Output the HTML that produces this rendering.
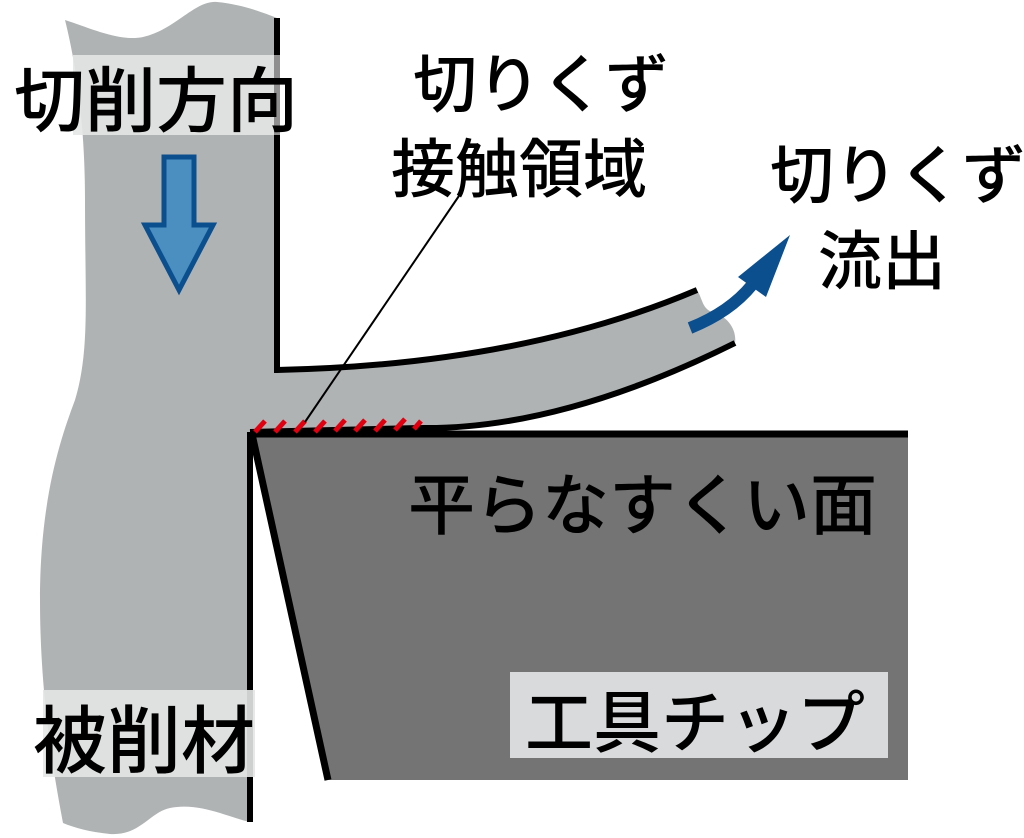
<!DOCTYPE html>
<html><head><meta charset="utf-8"><style>
html,body{margin:0;padding:0;background:#fff;}
svg{display:block}
text{font-family:"Liberation Sans","Noto Sans CJK JP",sans-serif;fill:#000;font-weight:500}
</style></head><body>
<svg width="1024" height="838" viewBox="0 0 1024 838" xmlns="http://www.w3.org/2000/svg">
<path d="M65,20 C90,28 120,42 143,37 C175,30 195,0 217,2 C240,4 262,12 277,18 L277,370 Q520,365 697,290 C703,300 702,308 712,312 C728,316 737,330 735,343 Q560,430 420,428 L250,432 L250,822 C230,818 200,802 170,808 C150,812 140,836 110,834 C90,832 75,828 63,823 C55,780 40,700 40,600 C40,500 60,440 75,400 C90,350 85,300 85,200 C85,120 75,60 65,20 Z" fill="#b0b3b4"/>
<polygon points="252,434 908,434 908,780 328,780" fill="#747474"/>
<path d="M252,434 L908,434" stroke="#000" stroke-width="7" fill="none"/>
<path d="M252,434 L328,780" stroke="#000" stroke-width="7" fill="none"/>
<path d="M277,18 L277,370 Q520,365 697,290" stroke="#000" stroke-width="6" fill="none"/>
<path d="M250,432 L250,822" stroke="#000" stroke-width="6" fill="none"/>
<path d="M250,432 L420,428 Q560,430 735,343" stroke="#000" stroke-width="6" fill="none"/>
<g stroke="#e00010" stroke-width="5">
<line x1="255" y1="432" x2="265" y2="421"/><line x1="275" y1="432" x2="285" y2="421"/><line x1="295" y1="432" x2="305" y2="421"/><line x1="315" y1="432" x2="325" y2="421"/><line x1="335" y1="431" x2="345" y2="420"/><line x1="355" y1="431" x2="365" y2="420"/><line x1="375" y1="431" x2="385" y2="420"/><line x1="395" y1="430" x2="405" y2="419"/><line x1="414" y1="429" x2="421" y2="421"/>
</g>
<line x1="463" y1="190" x2="305" y2="422" stroke="#000" stroke-width="2"/>
<rect x="73" y="55" width="207" height="80" fill="#e4e5e6" opacity="0.9"/>
<rect x="43" y="690" width="212" height="87" fill="#e4e5e6" opacity="0.9"/>
<rect x="510" y="672" width="378" height="86" fill="#d9dadb"/>
<line x1="277" y1="55" x2="277" y2="135" stroke="#000" stroke-width="6" opacity="0.3"/>
<path d="M164,157 L194,157 L194,225 L213,225 L179,290 L145,225 L164,225 Z" fill="#4a8fc0" stroke="#0b4f8f" stroke-width="5"/>
<path d="M690,328 Q730,312 752,285" stroke="#0b4f8f" stroke-width="12" fill="none"/>
<polygon points="790,235 738,277 766,297" fill="#0b4f8f"/>
<text x="14" y="126" font-size="71">切削方向</text>
<text x="33" y="767" font-size="74">被削材</text>
<text x="525" y="747" font-size="68">工具チップ</text>
<text x="408" y="529" font-size="67">平らなすくい面</text>
<text x="413" y="107" font-size="64">切りくず</text>
<text x="391" y="192" font-size="64">接触領域</text>
<text x="770" y="198" font-size="64">切りくず</text>
<text x="818" y="284" font-size="64">流出</text>
</svg>
</body></html>
